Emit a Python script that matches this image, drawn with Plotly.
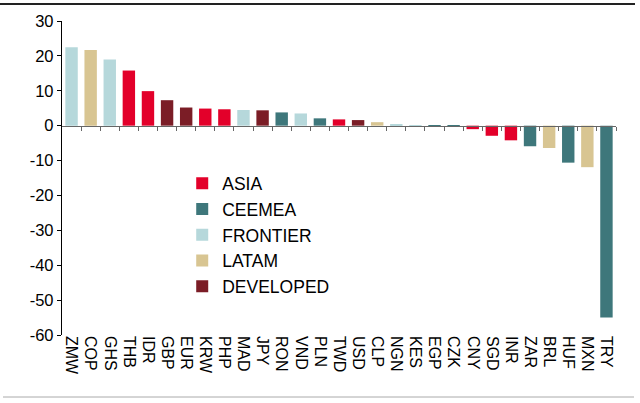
import plotly.graph_objects as go

categories = ["ZMW", "COP", "GHS", "THB", "IDR", "GBP", "EUR", "KRW", "PHP", "MAD",
              "JPY", "RON", "VND", "PLN", "TWD", "USD", "CLP", "NGN", "KES", "EGP",
              "CZK", "CNY", "SGD", "INR", "ZAR", "BRL", "HUF", "MXN", "TRY"]
values = [22.5, 21.7, 19.0, 15.8, 9.9, 7.3, 5.2, 4.9, 4.7, 4.5,
          4.4, 3.8, 3.5, 2.1, 1.8, 1.6, 1.0, 0.3, 0.05, 0.05,
          0.1, -1.0, -2.9, -4.2, -5.9, -6.4, -10.6, -11.9, -55.0]
regions = ["FRONTIER", "LATAM", "FRONTIER", "ASIA", "ASIA", "DEVELOPED", "DEVELOPED", "ASIA", "ASIA", "FRONTIER",
           "DEVELOPED", "CEEMEA", "FRONTIER", "CEEMEA", "ASIA", "DEVELOPED", "LATAM", "FRONTIER", "FRONTIER", "CEEMEA",
           "CEEMEA", "ASIA", "ASIA", "ASIA", "CEEMEA", "LATAM", "CEEMEA", "LATAM", "CEEMEA"]
groups = ["ASIA", "CEEMEA", "FRONTIER", "LATAM", "DEVELOPED"]
colors = {"ASIA": "#E3002A", "CEEMEA": "#3E777B", "FRONTIER": "#B6D8DB",
          "LATAM": "#D8C592", "DEVELOPED": "#7B1D26"}
y_ticks = [30, 20, 10, 0, -10, -20, -30, -40, -50, -60]
y_tick_text = [str(t) for t in y_ticks]  # plain hyphen minus as in the reference

fig = go.Figure()
for g in groups:
    xs = [c for c, r in zip(categories, regions) if r == g]
    ys = [v for v, r in zip(values, regions) if r == g]
    fig.add_trace(go.Bar(x=xs, y=ys, name=g, marker_color=colors[g],
                         marker_line_width=0, legendgroup=g))

n = len(categories)
boundaries = [i + 0.5 for i in range(n)]
y_min, y_max = -60, 30
zero_pos = (0 - y_min) / (y_max - y_min)

fig.update_layout(
    width=640, height=403,
    margin=dict(l=62, r=24, t=21, b=68),
    paper_bgcolor="white", plot_bgcolor="white",
    barmode="relative", bargap=0.35,
    font=dict(family="Liberation Sans, Arial, sans-serif", color="black", size=16),
    xaxis=dict(type="category", categoryorder="array", categoryarray=categories,
               range=[-0.5, n - 0.5], showline=False, ticks="", tickangle=90,
               showgrid=False, tickfont=dict(size=16), zeroline=False, automargin=False),
    xaxis2=dict(overlaying="x", anchor="free", position=zero_pos, range=[-0.5, n - 0.5],
                showline=True, linecolor="#666666", linewidth=1, ticks="outside",
                ticklen=4, tickcolor="#666666", tickvals=boundaries,
                showticklabels=False, showgrid=False, zeroline=False, automargin=False),
    yaxis=dict(range=[y_min, y_max], tickvals=y_ticks, ticktext=y_tick_text,
               showgrid=False, zeroline=False, automargin=False,
               showline=True, linecolor="black", linewidth=1.3, ticks="outside",
               ticklen=4, tickcolor="black", tickfont=dict(size=16.5)),
    legend=dict(x=0.217, y=0.54, xanchor="left", yanchor="top",
                bgcolor="rgba(0,0,0,0)", font=dict(size=17.5),
                tracegroupgap=3, traceorder="normal"),
    showlegend=True,
)
# invisible helper trace so the zero-line axis (xaxis2) is drawn
fig.add_trace(go.Scatter(x=[0], y=[0], xaxis="x2", mode="markers",
                         marker=dict(opacity=0), showlegend=False, hoverinfo="skip"))

fig.add_shape(type="line", xref="paper", yref="paper",
              x0=-62/554, x1=(635-62)/554, y0=1 + (21-4)/314, y1=1 + (21-4)/314,
              line=dict(color="#222222", width=2.2))
fig.add_shape(type="line", xref="paper", yref="paper",
              x0=(3-62)/554, x1=(634-62)/554, y0=(335-397)/314, y1=(335-397)/314,
              line=dict(color="#AAAAAA", width=1))

fig.write_html("out.html", config={"displayModeBar": False},
               post_script="document.body.style.margin='0';document.body.style.overflow='hidden';")
